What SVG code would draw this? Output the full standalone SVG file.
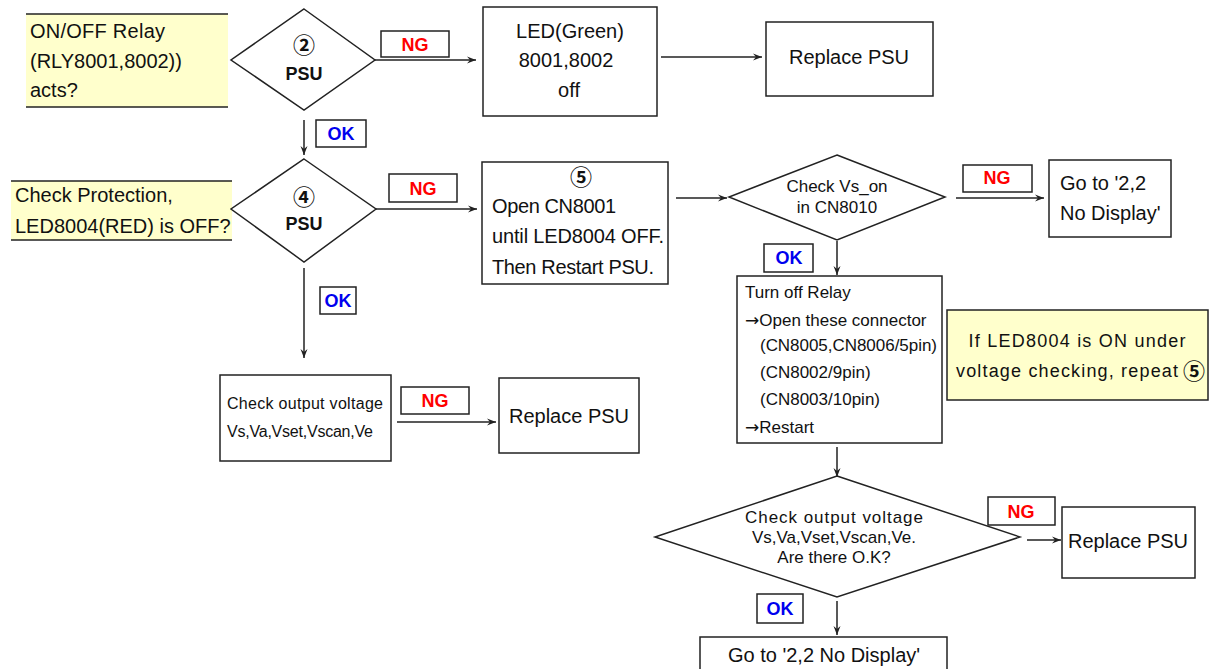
<svg xmlns="http://www.w3.org/2000/svg" width="1211" height="669" viewBox="0 0 1211 669">
<style>
text{font-family:"Liberation Sans","DejaVu Sans",sans-serif;fill:#111}
.box{fill:#fff;stroke:#222;stroke-width:1.5}
.note{fill:#ffffcc;stroke:none}
.rule{stroke:#222;stroke-width:1.5}
.lbl{fill:#fff;stroke:#222;stroke-width:1.5}
.ng{fill:#ff0000;font-weight:bold;font-size:18px;text-anchor:middle}
.ok{fill:#0000ee;font-weight:bold;font-size:18px;text-anchor:middle}
.t20{font-size:20px}
.t18{font-size:18px}
.t17{font-size:17px}
.t16{font-size:16px}
.c{text-anchor:middle}
.b{font-weight:bold}
.num{font-family:"Noto Sans CJK KR","DejaVu Sans",sans-serif;font-size:22px;font-weight:bold;text-anchor:middle}
.arr{font-family:"DejaVu Sans",sans-serif}
.edge{stroke:#222;stroke-width:1.5;fill:none;marker-end:url(#ah)}
</style>
<defs>
<marker id="ah" markerWidth="10" markerHeight="8" refX="9" refY="4" orient="auto" markerUnits="userSpaceOnUse">
<path d="M0,0.5 L9,4 L0,7.5 L3,4 z" fill="#222"/>
</marker>
</defs>
<rect width="1211" height="669" fill="#fff"/>

<g id="connectors">
<line class="edge" x1="375" y1="60" x2="476" y2="60"/>
<line class="edge" x1="304" y1="120" x2="304" y2="155"/>
<line class="edge" x1="376" y1="209" x2="477" y2="209"/>
<line class="edge" x1="661" y1="57" x2="762" y2="57"/>
<line class="edge" x1="304" y1="268" x2="304" y2="358"/>
<line class="edge" x1="397" y1="422" x2="496" y2="422"/>
<line class="edge" x1="676" y1="198" x2="727" y2="198"/>
<line class="edge" x1="956" y1="198" x2="1044" y2="198"/>
<line class="edge" x1="837" y1="241" x2="837" y2="275"/>
<line class="edge" x1="837" y1="447" x2="837" y2="477"/>
<line class="edge" x1="1027" y1="540" x2="1061" y2="540"/>
<line class="edge" x1="837" y1="601" x2="837" y2="635"/>
</g>

<g id="note1">
<rect class="note" x="26" y="14" width="202" height="93"/>
<line class="rule" x1="26" y1="14" x2="228" y2="14"/>
<line class="rule" x1="26" y1="107" x2="228" y2="107"/>
<text class="t20" x="30" y="38" textLength="135">ON/OFF Relay</text>
<text class="t20" x="30" y="68">(RLY8001,8002))</text>
<text class="t20" x="30" y="97">acts?</text>
</g>

<g id="note2">
<rect class="note" x="11" y="181" width="221" height="59"/>
<line class="rule" x1="11" y1="181" x2="232" y2="181"/>
<line class="rule" x1="11" y1="240" x2="232" y2="240"/>
<text class="t20" x="15" y="202">Check Protection,</text>
<text class="t20" x="15" y="233">LED8004(RED) is OFF?</text>
</g>

<g id="d1">
<polygon class="box" points="304,9 375,60 304,110 231,60"/>
<text class="num" x="304" y="53">②</text>
<text class="c b t18" x="304" y="80">PSU</text>
</g>

<g id="d2">
<polygon class="box" points="304,159 376,209 304,262 231,209"/>
<text class="num" x="304" y="205">④</text>
<text class="c b t18" x="304" y="230">PSU</text>
</g>

<g id="ng1"><rect class="lbl" x="381" y="31" width="68" height="26"/><text class="ng" x="415" y="51">NG</text></g>
<g id="ok1"><rect class="lbl" x="316" y="120" width="50" height="27"/><text class="ok" x="341" y="140">OK</text></g>
<g id="ng2"><rect class="lbl" x="389" y="174" width="68" height="28"/><text class="ng" x="423" y="195">NG</text></g>
<g id="ok2"><rect class="lbl" x="320" y="287" width="36" height="27"/><text class="ok" x="338" y="307">OK</text></g>

<g id="led">
<rect class="box" x="483" y="7" width="174" height="109"/>
<text class="c t20" x="570" y="38">LED(Green)</text>
<text class="c t20" x="566" y="67">8001,8002</text>
<text class="c t20" x="569" y="97">off</text>
</g>

<g id="rep1">
<rect class="box" x="766" y="22" width="167" height="74"/>
<text class="c t20" x="849" y="64">Replace PSU</text>
</g>

<g id="step5">
<rect class="box" x="482" y="162" width="186" height="122"/>
<text class="num" x="581" y="185">⑤</text>
<text class="t20" x="492" y="213" textLength="124">Open CN8001</text>
<text class="t20" x="492" y="243" textLength="172">until LED8004 OFF.</text>
<text class="t20" x="492" y="274" textLength="162">Then Restart PSU.</text>
</g>

<g id="d3">
<polygon class="box" points="837,155 945,197 837,240 729,197"/>
<text class="c t17" x="837" y="192">Check Vs_on</text>
<text class="c t17" x="837" y="213">in CN8010</text>
</g>

<g id="ng3"><rect class="lbl" x="963" y="165" width="69" height="27"/><text class="ng" x="997" y="184">NG</text></g>

<g id="goto1">
<rect class="box" x="1049" y="160" width="122" height="77"/>
<text class="t20" x="1060" y="190">Go to '2,2</text>
<text class="t20" x="1060" y="220">No Display'</text>
</g>

<g id="ok3"><rect class="lbl" x="764" y="244" width="49" height="28"/><text class="ok" x="789" y="264">OK</text></g>

<g id="relay">
<rect class="box" x="737" y="276" width="205" height="167"/>
<text class="t17" x="745" y="298">Turn off Relay</text>
<text class="t17" x="745" y="326"><tspan class="arr">→</tspan>Open these connector</text>
<text class="t17" x="760" y="351" textLength="177">(CN8005,CN8006/5pin)</text>
<text class="t17" x="760" y="378">(CN8002/9pin)</text>
<text class="t17" x="760" y="405">(CN8003/10pin)</text>
<text class="t17" x="745" y="433"><tspan class="arr">→</tspan>Restart</text>
</g>

<g id="note3">
<rect x="947" y="310" width="261" height="90" fill="#ffffcc" stroke="#222" stroke-width="1.5"/>
<text class="c t18" x="1077" y="347" textLength="217">If LED8004 is ON under</text>
<text class="t18" x="956" y="377" textLength="222">voltage checking, repeat</text>
<text class="num" x="1194" y="379">⑤</text>
</g>

<g id="checkv">
<rect class="box" x="220" y="375" width="171" height="86"/>
<text class="t16" x="227" y="409" textLength="156">Check output voltage</text>
<text class="t16" x="227" y="437" textLength="146">Vs,Va,Vset,Vscan,Ve</text>
</g>

<g id="ng4"><rect class="lbl" x="401" y="387" width="68" height="27"/><text class="ng" x="435" y="407">NG</text></g>

<g id="rep2">
<rect class="box" x="499" y="378" width="140" height="75"/>
<text class="c t20" x="569" y="423">Replace PSU</text>
</g>

<g id="d4">
<polygon class="box" points="837,476 1020,537 837,597 655,537"/>
<text class="c t17" x="834" y="523" textLength="178">Check output voltage</text>
<text class="c t17" x="834" y="543">Vs,Va,Vset,Vscan,Ve.</text>
<text class="c t17" x="834" y="563">Are there O.K?</text>
</g>

<g id="ng5"><rect class="lbl" x="988" y="497" width="67" height="28"/><text class="ng" x="1021" y="518">NG</text></g>

<g id="rep3">
<rect class="box" x="1062" y="507" width="133" height="71"/>
<text class="c t20" x="1128" y="548">Replace PSU</text>
</g>

<g id="ok4"><rect class="lbl" x="757" y="594" width="46" height="29"/><text class="ok" x="780" y="615">OK</text></g>

<g id="goto2">
<rect class="box" x="700" y="637" width="247" height="40"/>
<text class="c t20" x="824" y="662">Go to '2,2 No Display'</text>
</g>
</svg>
